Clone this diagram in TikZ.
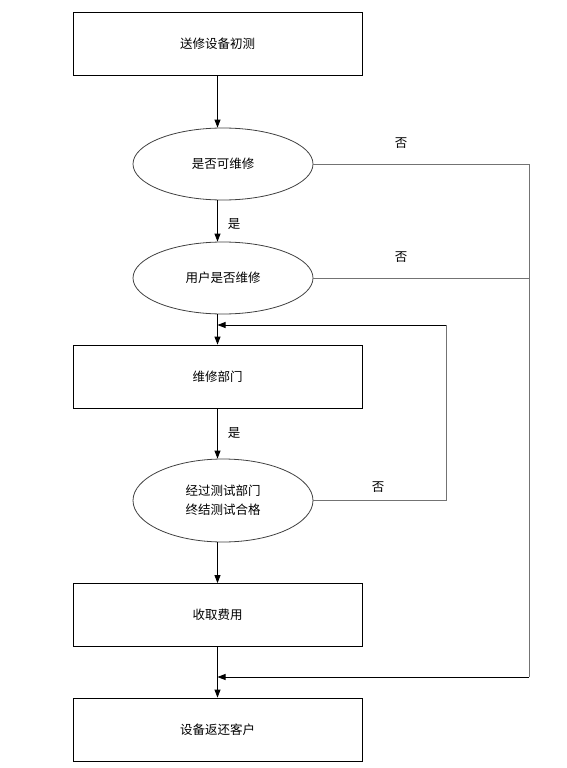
\documentclass[tikz,border=0pt]{standalone}
\usepackage{fontspec}
\newfontfamily\cjk{Noto Sans CJK SC}
\usetikzlibrary{arrows.meta,positioning,shapes.geometric}

\begin{document}
\begin{tikzpicture}[x=1pt,y=-1pt,>={Triangle[length=8pt,width=6pt]},line width=0.8pt,
    font=\cjk\fontsize{12.5}{19}\selectfont]
  \useasboundingbox (0,0) rectangle (566,768);
  \tikzset{greyline/.style={draw=black!55}}
  \node[draw,minimum width=289pt,minimum height=63pt] (a) at (217.5,43.5) {送修设备初测};
  \node[draw=black!75,ellipse,minimum width=180pt,minimum height=72pt] (b) at (223,164) {是否可维修};
  \node[draw=black!75,ellipse,minimum width=180pt,minimum height=72pt] (c) at (223,278) {用户是否维修};
  \node[draw,minimum width=289pt,minimum height=63pt] (d) at (217.5,376.5) {维修部门};
  \node[draw=black!75,ellipse,align=center,minimum width=180pt,minimum height=83pt] (e) at (223,500.5)
    {经过测试部门\\终结测试合格};
  \node[draw,minimum width=289pt,minimum height=63pt] (f) at (217.5,615) {收取费用};
  \node[draw,minimum width=289pt,minimum height=63pt] (g) at (217.5,729.5) {设备返还客户};

  \node (yes1) at (234,224) {是};
  \node (yes2) at (234,433) {是};
  \node (no1) at (401,143) {否};
  \node (no2) at (401,257) {否};
  \node (no3) at (378,487) {否};

  \coordinate (j1) at (217.5,325);
  \coordinate (j2) at (217.5,677);
  \coordinate (fb) at (446,325);
  \coordinate (rr) at (529,677);

  \draw[->] (a.south) -- (b.north -| a);
  \draw[->] (b.south -| a) -- (c.north -| a);
  \draw[->] (c.south -| a) -- (d.north);
  \draw[->] (d.south) -- (e.north -| a);
  \draw[->] (e.south -| a) -- (f.north);
  \draw[->] (f.south) -- (g.north);

  \draw[greyline] (b.east) -| (rr);
  \draw[greyline] (c.east) -- (c.east -| rr);
  \draw[->] (rr) -- (j2);
  \draw[greyline] (e.east) -| (fb);
  \draw[->] (fb) -- (j1);
\end{tikzpicture}
\end{document}
